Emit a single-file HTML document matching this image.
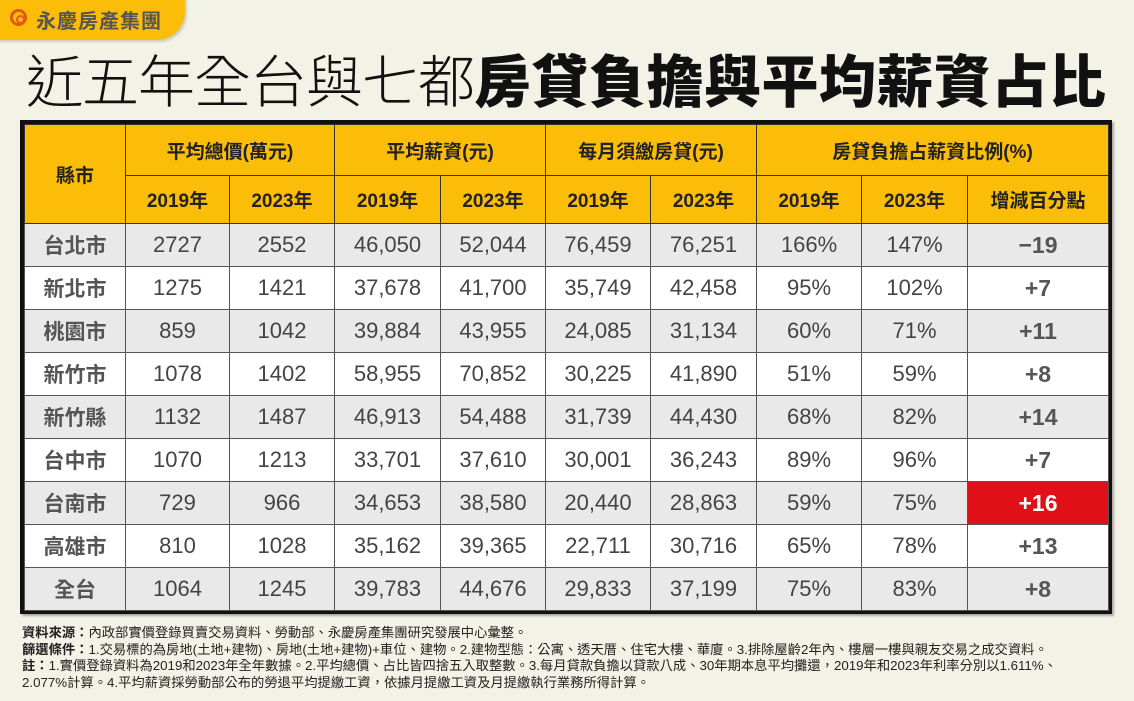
<!DOCTYPE html>
<html><head><meta charset="utf-8"><style>
body{margin:0;width:1134px;height:701px;background:#f3f2e6;position:relative;overflow:hidden;font-family:"Liberation Sans","Noto Sans CJK TC",sans-serif;}
.tab{position:absolute;left:-10px;top:-10px;width:195px;height:50px;background:#fbbd08;border-radius:0 0 28px 0;box-shadow:2px 2px 2px rgba(0,0,0,.15);}
.logo{position:absolute;left:10px;top:9px;width:17px;height:17px;border:3px solid #e0581a;border-radius:50%;box-sizing:border-box;}
.logo:after{content:"";position:absolute;left:3px;top:3px;width:5px;height:5px;border:2px solid #e0581a;border-radius:50%;}
.logotxt{position:absolute;left:36px;top:5px;font-size:20px;font-weight:bold;color:#555;letter-spacing:1px;font-family:"Noto Sans CJK TC",sans-serif;}
.title{position:absolute;left:26px;top:38px;font-size:57px;line-height:80px;color:#111;font-family:"Noto Sans CJK TC",sans-serif;font-weight:300;white-space:nowrap;letter-spacing:-1px;}
.title b{font-weight:900;letter-spacing:0.5px;}
.box{position:absolute;left:20px;top:120px;width:1084px;height:486px;border:4px solid #111;box-shadow:2px 2px 2px rgba(0,0,0,.3);}
table{border-collapse:collapse;width:1084px;height:486px;table-layout:fixed;}
td{border:1px solid #555;text-align:center;padding:0;font-size:22px;color:#444;}
tr.h td{background:#fbbd08;color:#222;font-weight:bold;font-size:19px;font-family:"Liberation Sans","Noto Sans CJK TC",sans-serif;border-color:#333;}
tr.g td{background:#e9e9e9;}
tr.w td{background:#fff;}
td.n{font-weight:bold;font-family:"Liberation Sans","Noto Sans CJK TC",sans-serif;font-size:21px;color:#555;}
td.p{font-weight:bold;font-size:23px;color:#555;}
td.red{background:#e10f17!important;color:#fff;}
.notes{position:absolute;left:22px;top:625px;font-size:13.3px;line-height:16.5px;color:#222;font-family:"Liberation Sans","Noto Sans CJK TC",sans-serif;white-space:nowrap;}
</style></head><body>
<div class="tab"></div><div class="logo"></div><div class="logotxt">永慶房產集團</div>
<div class="title">近五年全台與七都<b>房貸負擔與平均薪資占比</b></div>
<div class="box"><table>
<colgroup><col style="width:101px"><col style="width:104px"><col style="width:105px"><col style="width:106px"><col style="width:105px"><col style="width:105px"><col style="width:106px"><col style="width:105px"><col style="width:106px"><col style="width:141px"></colgroup>
<tr class="h" style="height:51px"><td rowspan="2">縣市</td><td colspan="2">平均總價(萬元)</td><td colspan="2">平均薪資(元)</td><td colspan="2">每月須繳房貸(元)</td><td colspan="3">房貸負擔占薪資比例(%)</td></tr>
<tr class="h" style="height:48px"><td>2019年</td><td>2023年</td><td>2019年</td><td>2023年</td><td>2019年</td><td>2023年</td><td>2019年</td><td>2023年</td><td>增減百分點</td></tr>
<tr class="g" style="height:43px"><td class="n">台北市</td><td>2727</td><td>2552</td><td>46,050</td><td>52,044</td><td>76,459</td><td>76,251</td><td>166%</td><td>147%</td><td class="p">−19</td></tr>
<tr class="w" style="height:43px"><td class="n">新北市</td><td>1275</td><td>1421</td><td>37,678</td><td>41,700</td><td>35,749</td><td>42,458</td><td>95%</td><td>102%</td><td class="p">+7</td></tr>
<tr class="g" style="height:43px"><td class="n">桃園市</td><td>859</td><td>1042</td><td>39,884</td><td>43,955</td><td>24,085</td><td>31,134</td><td>60%</td><td>71%</td><td class="p">+11</td></tr>
<tr class="w" style="height:43px"><td class="n">新竹市</td><td>1078</td><td>1402</td><td>58,955</td><td>70,852</td><td>30,225</td><td>41,890</td><td>51%</td><td>59%</td><td class="p">+8</td></tr>
<tr class="g" style="height:43px"><td class="n">新竹縣</td><td>1132</td><td>1487</td><td>46,913</td><td>54,488</td><td>31,739</td><td>44,430</td><td>68%</td><td>82%</td><td class="p">+14</td></tr>
<tr class="w" style="height:43px"><td class="n">台中市</td><td>1070</td><td>1213</td><td>33,701</td><td>37,610</td><td>30,001</td><td>36,243</td><td>89%</td><td>96%</td><td class="p">+7</td></tr>
<tr class="g" style="height:43px"><td class="n">台南市</td><td>729</td><td>966</td><td>34,653</td><td>38,580</td><td>20,440</td><td>28,863</td><td>59%</td><td>75%</td><td class="p red">+16</td></tr>
<tr class="w" style="height:43px"><td class="n">高雄市</td><td>810</td><td>1028</td><td>35,162</td><td>39,365</td><td>22,711</td><td>30,716</td><td>65%</td><td>78%</td><td class="p">+13</td></tr>
<tr class="g" style="height:43px"><td class="n">全台</td><td>1064</td><td>1245</td><td>39,783</td><td>44,676</td><td>29,833</td><td>37,199</td><td>75%</td><td>83%</td><td class="p">+8</td></tr>
</table></div>
<div class="notes"><b>資料來源：</b>內政部實價登錄買賣交易資料、勞動部、永慶房產集團研究發展中心彙整。<br><b>篩選條件：</b>1.交易標的為房地(土地+建物)、房地(土地+建物)+車位、建物。2.建物型態：公寓、透天厝、住宅大樓、華廈。3.排除屋齡2年內、樓層一樓與親友交易之成交資料。<br><b>註：</b>1.實價登錄資料為2019和2023年全年數據。2.平均總價、占比皆四捨五入取整數。3.每月貸款負擔以貸款八成、30年期本息平均攤還，2019年和2023年利率分別以1.611%、<br>2.077%計算。4.平均薪資採勞動部公布的勞退平均提繳工資，依據月提繳工資及月提繳執行業務所得計算。</div>
</body></html>
